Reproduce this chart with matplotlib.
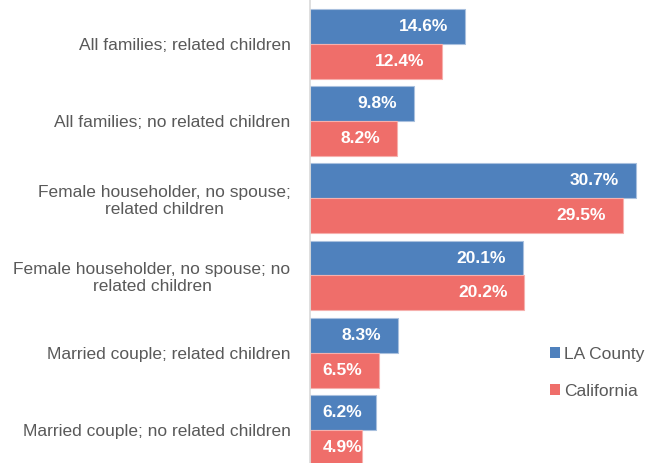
import matplotlib
matplotlib.use("Agg")
import matplotlib.pyplot as plt
import numpy as np
from matplotlib.patches import Patch

categories = [
    "All families; related children",
    "All families; no related children",
    "Female householder, no spouse;\nrelated children",
    "Female householder, no spouse; no\nrelated children",
    "Married couple; related children",
    "Married couple; no related children",
]
la_county = [14.6, 9.8, 30.7, 20.1, 8.3, 6.2]
california = [12.4, 8.2, 29.5, 20.2, 6.5, 4.9]
series_names = ["LA County", "California"]

blue = "#4F81BD"
red = "#EF6E6A"
gray = "#595959"

plt.rcParams['font.family'] = ['Liberation Sans', 'DejaVu Sans']

fig = plt.figure(figsize=(6.55, 4.63), dpi=100)
ax = fig.add_axes([310/655, 0, 1 - 310/655, 1])

y = np.arange(len(categories))
h = 0.453
b1 = ax.barh(y - h/2, la_county, height=h, color=blue, edgecolor="#A9C0DE", linewidth=0.8)
b2 = ax.barh(y + h/2, california, height=h, color=red, edgecolor="#F6B0AD", linewidth=0.8)

xmax = 32.5
px_per_unit = (655 - 310) / xmax
for bars, vals in ((b1, la_county), (b2, california)):
    for rect, v in zip(bars, vals):
        # inside-end label; kept from running past the axis for short bars
        xr = max(v - 17 / px_per_unit, 52 / px_per_unit)
        ax.text(xr, rect.get_y() + rect.get_height()/2, f"{v:.1f}%",
                ha="right", va="center", color="white",
                fontsize=12.5, fontweight="bold")

ax.set_xlim(0, xmax)
ax.set_ylim(5.43, -0.57)
ax.set_yticks(y)
ax.set_yticklabels(categories, fontsize=12.5, color=gray, multialignment="center")
ax.tick_params(axis="y", length=0, pad=14)
ax.set_xticks([])
for s in ("top", "right", "bottom"):
    ax.spines[s].set_visible(False)
ax.spines["left"].set_color("#D9D9D9")
ax.spines["left"].set_linewidth(1.2)

handles = [Patch(facecolor=blue, label=series_names[0]),
           Patch(facecolor=red, label=series_names[1])]
leg = ax.legend(handles=handles, loc="upper left", bbox_to_anchor=((543-310)/345, 1 - 340/463),
                frameon=False, fontsize=12.5, handlelength=0.6, handleheight=0.6,
                handletextpad=0.2, labelspacing=1.25, borderaxespad=0)
for t in leg.get_texts():
    t.set_color(gray)

fig.savefig("out.png", dpi=100)
